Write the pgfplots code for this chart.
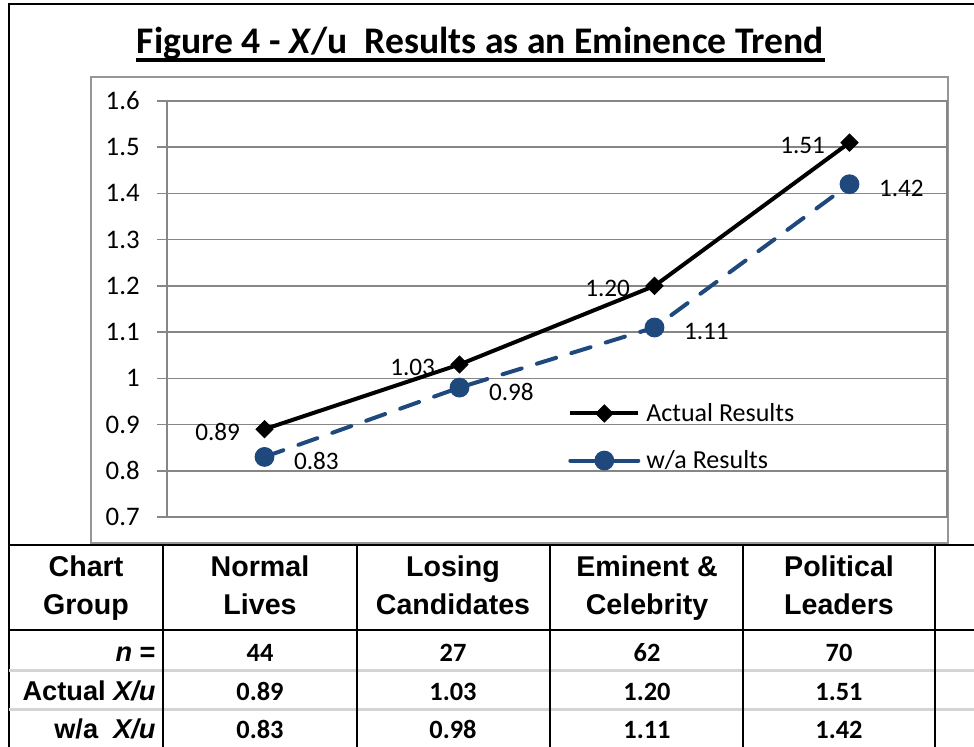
\documentclass[border=0pt]{standalone}
\usepackage{fontspec}
\setmainfont{Carlito}
\newfontfamily\arial{Liberation Sans}
\usepackage{pgfplots}
\pgfplotsset{compat=1.18}
\definecolor{wablue}{RGB}{31,73,125}
\definecolor{gridgray}{RGB}{134,134,134}
\definecolor{framegray}{RGB}{150,150,150}
\definecolor{rowgray}{RGB}{212,212,212}
\begin{document}
\begin{tikzpicture}
\path[use as bounding box] (0,0) rectangle (487pt,-373pt);
\begin{scope}[x=0.5pt,y=-0.5pt]
% outer border
\draw[line width=1.2pt] (9,780) -- (9,4) -- (1000,4);
% chart frame
\draw[framegray, line width=0.7pt] (91,77) rectangle (948,543);
% title
\node[anchor=base, inner sep=0pt, font=\fontsize{18.8}{22}\selectfont\bfseries] at (480.5,53) {Figure 4 - \textit{X}/u\ \ Results as an Eminence Trend};
\draw[line width=1.7pt] (136,60) -- (825,60);
% table
\draw[rowgray, line width=1.5pt] (9,670) -- (1000,670);
\draw[rowgray, line width=1.5pt] (9,709) -- (1000,709);
\draw[line width=1.3pt] (9,545) -- (1000,545);
\draw[line width=1.3pt] (9,630) -- (1000,630);
\foreach \x in {163,357,550,743,935} \draw[line width=1pt] (\x,545) -- (\x,780);
\foreach \x/\a/\b in {86/Chart/Group, 260/Normal/Lives, 453/Losing/Candidates, 647/Eminent \&/Celebrity, 839/Political/Leaders} {
  \node[anchor=base, inner sep=0pt, font=\arial\bfseries\fontsize{14.3}{16}\selectfont] at (\x,576) {\a};
  \node[anchor=base, inner sep=0pt, font=\arial\bfseries\fontsize{14.3}{16}\selectfont] at (\x,614) {\b};
}
\foreach \x/\n/\a/\w in {260/44/0.89/0.83, 453/27/1.03/0.98, 647/62/1.20/1.11, 839/70/1.51/1.42} {
  \node[anchor=base, inner sep=0pt, font=\bfseries\fontsize{13.2}{15}\selectfont] at (\x,661) {\n};
  \node[anchor=base, inner sep=0pt, font=\bfseries\fontsize{13.2}{15}\selectfont] at (\x,700) {\a};
  \node[anchor=base, inner sep=0pt, font=\bfseries\fontsize{13.2}{15}\selectfont] at (\x,738) {\w};
}
\node[anchor=base east, inner sep=0pt, font=\arial\bfseries\fontsize{13.6}{16}\selectfont] at (156,661) {\textit{n} =};
\node[anchor=base east, inner sep=0pt, font=\arial\bfseries\fontsize{13.6}{16}\selectfont] at (156,700) {Actual \textit{X/u}};
\node[anchor=base east, inner sep=0pt, font=\arial\bfseries\fontsize{13.6}{16}\selectfont] at (156,738) {w/a\ \ \textit{X/u}};
\end{scope}
\begin{axis}[
  at={(83.5pt,-258.5pt)}, anchor=south west,
  scale only axis, width=390pt, height=208pt,
  xmin=-0.5, xmax=3.5, ymin=0.7, ymax=1.6,
  xtick=\empty,
  ytick={0.7,0.8,0.9,1,1.1,1.2,1.3,1.4,1.5,1.6},
  ytick pos=left,
  tick align=outside,
  major tick length=5pt,
  axis line style={gridgray, line width=0.75pt},
  ymajorgrids, grid style={gridgray, line width=0.75pt},
  tick style={gridgray, line width=0.75pt},
  /pgf/number format/assume math mode=true,
  yticklabel style={font=\fontsize{13.4}{16}\selectfont, inner sep=0pt, xshift=-8.5pt},
  clip=false,
  legend style={at={(axis description cs:0.514,0.1923)}, anchor=west, draw=none, fill=none,
    font=\fontsize{13}{15}\selectfont, inner sep=0pt, row sep=13pt, column sep=0pt,
    nodes={inner sep=0pt, text=black}},
  legend cell align=left,
  legend image code/.code={\draw[mark repeat=2, mark phase=2, #1, solid] plot coordinates {(0pt,0pt) (17pt,0pt) (34pt,0pt)}; \path (37pt,0pt);},
]
\addplot[black, line width=2pt, mark=square*, mark size=3pt,
  mark options={rotate=45, solid, line width=0.5pt},
  nodes near coords={\pgfmathprintnumber[fixed,fixed zerofill,precision=2]{\pgfplotspointmeta}},
  nodes near coords style={anchor=east, inner sep=0pt, xshift=-12pt, yshift=-1.5pt, text=black, font=\fontsize{12.6}{15}\selectfont}]
  coordinates {(0,0.89) (1,1.03) (2,1.20) (3,1.51)};
\addlegendentry{Actual Results}
\addplot[wablue, line width=2pt, line cap=round, dash pattern=on 10pt off 8pt, mark=*, mark size=4.7pt,
  mark options={solid, line width=0.5pt},
  nodes near coords={\pgfmathprintnumber[fixed,fixed zerofill,precision=2]{\pgfplotspointmeta}},
  nodes near coords style={anchor=west, inner sep=0pt, xshift=14.5pt, yshift=-2pt, text=black, font=\fontsize{12.6}{15}\selectfont}]
  coordinates {(0,0.83) (1,0.98) (2,1.11) (3,1.42)};
\addlegendentry{w/a Results}
\end{axis}
\end{tikzpicture}
\end{document}
